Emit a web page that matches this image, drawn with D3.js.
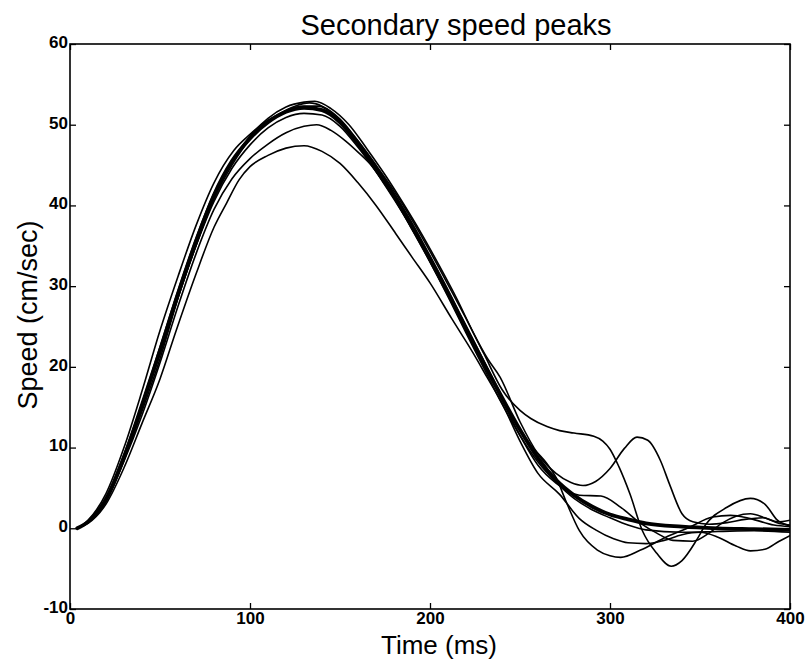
<!DOCTYPE html>
<html>
<head>
<meta charset="utf-8">
<script src="https://cdn.jsdelivr.net/npm/d3@7"></script>
<style>
  body { margin: 0; background: #fff; }
  svg { display: block; }
  text { font-family: "Liberation Sans", Arial, Helvetica, sans-serif; fill: #000; }
</style>
</head>
<body>
<svg id="chart" width="810" height="660"></svg>
<script>
// ---- Data (time in ms, speed in cm/sec) ----
const titleText = "Secondary speed peaks";
const xLabel = "Time (ms)";
const yLabel = "Speed (cm/sec)";
const xTicks = [0, 100, 200, 300, 400];
const yTicks = [-10, 0, 10, 20, 30, 40, 50, 60];

// thick mean curve
const meanCurve = [[4,0],[10,0.8],[20,3.6],[30,8.8],[40,15.3],[50,22],[60,29],[70,35.5],[80,41.3],[90,45.5],[100,48.3],[110,50.3],[120,51.6],[130,52.1],[140,51.8],[150,50.3],[160,47.6],[170,44.5],[180,41.2],[190,37.3],[200,33.3],[210,29.1],[220,24.7],[230,20.4],[240,16.2],[250,12.2],[260,8.7],[270,6.0],[280,4.1],[290,2.7],[300,1.7],[310,1.1],[320,0.6],[340,0.2],[360,0.0],[380,-0.1],[400,-0.2]];

// thin individual curves
const trialA = [[4,0],[10,0.6],[20,3],[30,7.5],[40,13],[50,18.5],[59,24.5],[70,31.5],[80,37.3],[87,40.3],[94,43.2],[100,44.8],[110,46.2],[120,47.1],[130,47.4],[140,46.7],[150,45.2],[160,42.8],[170,40],[181,36.5],[190,33.6],[200,30.4],[212,26],[224,21.7],[232,18.6],[240,15.5],[250,10.8],[260,6.8],[272,4.2],[283,1.2],[292,-0.2],[302,-1.3],[310,-1.8],[320,-1.9],[330,-1.5],[340,-0.8],[350,-0.5],[360,-1.1],[370,-2.2],[378,-2.8],[386,-2.6],[394,-1.6],[400,-0.9]];
const trialB = [[4,0],[10,0.8],[20,3.4],[30,8.3],[40,14],[50,20.5],[60,27.5],[70,34],[80,39.5],[90,43.3],[100,45.8],[110,47.6],[120,49],[130,49.8],[137,50],[145,49.3],[153,48],[160,46.6],[168,44.8],[175,42.5],[185,39],[195,35.2],[205,31],[215,26.8],[225,22.4],[235,18],[242,15],[250,11.5],[260,7.8],[270,5.6],[283,4.1],[295,4.0],[306,2.6],[317,0.6],[326,-0.6],[335,-1.5],[346,-1.6],[355,-0.6],[362,0.6],[370,1.5],[378,1.8],[386,1.3],[394,0.6],[400,0.4]];
const trialC = [[4,0],[10,1],[20,4.3],[30,10],[40,17],[50,24.5],[60,31.2],[70,37.5],[80,42.8],[91,46.8],[100,48.8],[107,50.1],[115,51.2],[125,52.3],[133,52.7],[140,52.3],[150,50.7],[160,48],[170,45],[180,41.8],[190,38.2],[200,34.3],[210,30.2],[220,26],[230,21.6],[240,17.2],[250,14.6],[256,13.6],[265,12.6],[272,12.1],[280,11.8],[291,11.4],[296,10.8],[300,9.8],[305,7.6],[311,4.3],[318,-0.3],[326,-3.1],[334,-4.7],[340,-4.0],[348,-1.5],[353,0.4],[365,2.6],[378,3.7],[386,3.0],[393,1.0],[400,0.3]];
const trialD = [[4,0],[10,0.9],[20,3.8],[30,9.2],[40,15.5],[50,22.5],[60,29.5],[70,36],[80,41.5],[90,45.5],[100,48.6],[110,50.8],[120,52.2],[130,52.8],[136,52.9],[145,52],[155,50],[165,47],[175,43.8],[185,40.3],[195,36.6],[205,32.6],[215,28.4],[225,23.8],[232,21],[239,18.7],[250,13.2],[260,9.2],[270,6.8],[278,5.7],[285,5.3],[292,5.8],[300,7.4],[308,9.9],[315,11.3],[321,10.9],[328,8.4],[333,5.5],[340,1.8],[346,0.8],[355,0.5],[365,0.7],[375,1.1],[385,1.3],[393,0.8],[400,1.0]];
const trialE = [[4,0],[10,0.7],[20,3.3],[30,8.5],[40,14.5],[50,21],[60,28.5],[70,35],[80,40.8],[90,45],[100,48.2],[110,50.3],[120,51.7],[130,52.3],[138,52.3],[148,51],[158,48.5],[168,45.5],[178,42.2],[188,38.6],[198,34.6],[208,30.4],[218,26],[228,21.6],[238,17.2],[248,13],[256,10.3],[265,8],[270,6.3],[276,3.1],[283,-0.3],[293,-2.7],[300,-3.4],[306,-3.6],[317,-2.7],[331,-1.1],[344,0.1],[357,1.4],[367,1.6],[378,1.2],[391,0.4],[400,0.2]];
const trialF = [[4,0],[10,0.8],[20,3.5],[30,8.6],[40,15],[50,21.6],[60,28.6],[70,35],[80,40.5],[90,44.6],[100,47.5],[110,49.6],[120,50.9],[130,51.4],[140,51.2],[150,49.8],[160,47.2],[170,44.2],[180,40.9],[190,37.1],[200,33],[210,28.7],[220,24.2],[230,19.8],[240,15.4],[250,11.5],[260,8.2],[270,5.7],[280,3.7],[290,2.3],[300,1.3],[310,0.4],[320,-0.2],[340,-0.5],[360,-0.4],[380,-0.3],[400,-0.5]];

const thinCurves = [trialA, trialB, trialC, trialD, trialE, trialF];

// ---- Layout ----
const svg = d3.select("#chart");
const margin = { left: 70, right: 20, top: 44, bottom: 51 };
const W = 810, H = 660;
const x = d3.scaleLinear().domain([0, 400]).range([margin.left, W - margin.right]);
const y = d3.scaleLinear().domain([-10, 60]).range([H - margin.bottom, margin.top]);

const line = d3.line()
  .x(d => x(d[0]))
  .y(d => y(d[1]))
  .curve(d3.curveMonotoneX);

const plot = svg.append("g");
const clipId = "plotclip";
svg.append("defs").append("clipPath").attr("id", clipId)
  .append("rect")
  .attr("x", x(0)).attr("y", y(60))
  .attr("width", x(400) - x(0)).attr("height", y(-10) - y(60));

const curvesG = plot.append("g").attr("clip-path", `url(#${clipId})`);
curvesG.selectAll("path.thin")
  .data(thinCurves)
  .join("path")
  .attr("class", "thin")
  .attr("d", line)
  .attr("fill", "none")
  .attr("stroke", "#000")
  .attr("stroke-width", 1.6)
  .attr("stroke-linejoin", "round");

curvesG.append("path")
  .datum(meanCurve)
  .attr("d", line)
  .attr("fill", "none")
  .attr("stroke", "#000")
  .attr("stroke-width", 3.8)
  .attr("stroke-linejoin", "round")
  .attr("stroke-linecap", "round");

// ---- Axes (ticks pointing inward on all sides) ----
const tickLen = 6;
const fontTick = 17;
const fmt = d => String(d); // plain hyphen-minus like the reference

const xAxisB = d3.axisBottom(x).tickValues(xTicks).tickSize(-tickLen).tickPadding(5).tickFormat(fmt);
const xAxisT = d3.axisTop(x).tickValues(xTicks).tickSize(-tickLen).tickFormat("");
const yAxisL = d3.axisLeft(y).tickValues(yTicks).tickSize(-tickLen).tickPadding(3).tickFormat(fmt);
const yAxisR = d3.axisRight(y).tickValues(yTicks).tickSize(-tickLen).tickFormat("");

function styleAxis(g) {
  g.select(".domain").remove();
  g.selectAll(".tick line").attr("stroke", "#000").attr("stroke-width", 1.3);
  g.selectAll(".tick text")
    .attr("font-size", fontTick)
    .attr("font-weight", "bold")
    .attr("font-family", "\"Liberation Sans\", Arial, sans-serif")
    .attr("fill", "#000");
}

svg.append("g").attr("transform", `translate(0,${y(-10)})`).call(xAxisB).call(styleAxis)
  .selectAll(".tick text").attr("dy", "0.72em").attr("y", 3);
svg.append("g").attr("transform", `translate(0,${y(60)})`).call(xAxisT).call(styleAxis);
svg.append("g").attr("transform", `translate(${x(0)},0)`).call(yAxisL).call(styleAxis)
  .selectAll(".tick text").attr("x", -2).attr("dy", "0.2em");
svg.append("g").attr("transform", `translate(${x(400)},0)`).call(yAxisR).call(styleAxis);

// frame
svg.append("rect")
  .attr("x", x(0)).attr("y", y(60))
  .attr("width", x(400) - x(0)).attr("height", y(-10) - y(60))
  .attr("fill", "none").attr("stroke", "#000").attr("stroke-width", 1.6);

// ---- Labels ----
svg.append("text")
  .attr("x", 456).attr("y", 35)
  .attr("text-anchor", "middle")
  .attr("font-size", 29)
  .text(titleText);

svg.append("text")
  .attr("x", 439).attr("y", 654)
  .attr("text-anchor", "middle")
  .attr("font-size", 26)
  .text(xLabel);

svg.append("text")
  .attr("transform", `translate(37,315) rotate(-90)`)
  .attr("text-anchor", "middle")
  .attr("font-size", 27)
  .text(yLabel);
</script>
</body>
</html>
